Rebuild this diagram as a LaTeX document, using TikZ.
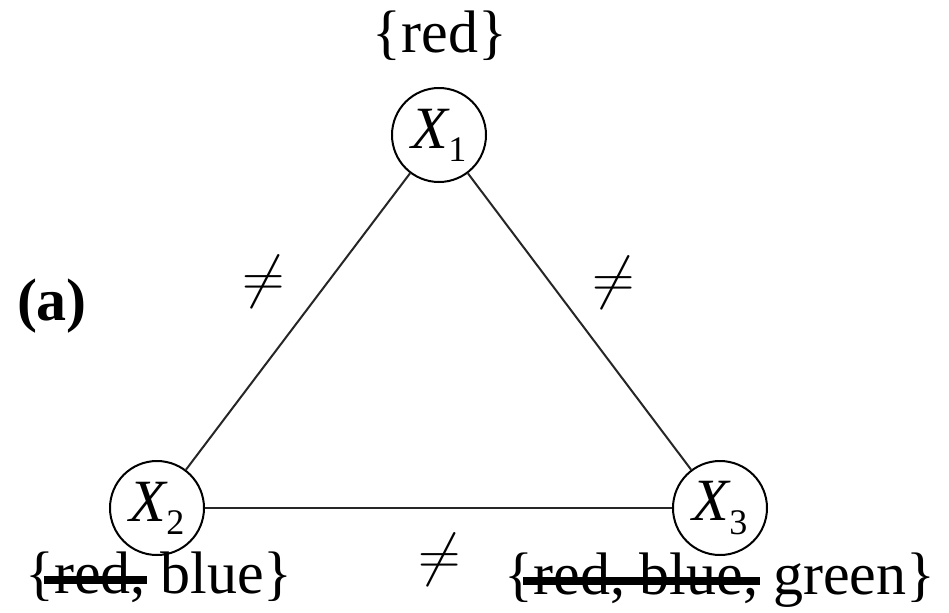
\documentclass[tikz,border=0pt]{standalone}
\usepackage{graphicx}
\usepackage{fontspec}
\setmainfont{Liberation Serif}
\newcommand\strk[1]{\setbox0\hbox{#1}\rlap{\hskip-0.17em\rule[0.155em]{\dimexpr\wd0+0.2em\relax}{0.13em}}\box0\relax}
\newcommand\xvar[1]{{\itshape X}\raisebox{-0.22em}{\fontsize{18}{20}\selectfont #1}}
\newcommand\bigneq{\scalebox{1.18}{$\neq$}}
\begin{document}
\begin{tikzpicture}[x=0.5pt,y=-0.5pt]
\tikzset{
  big/.style={font=\fontsize{30}{36}\selectfont},
  var/.style={big,circle,draw,line width=1pt,minimum size=47pt,inner sep=0pt},
  lbl/.style={big,inner sep=0pt,anchor=base},
  neqlbl/.style={big,inner sep=0pt},
  edge/.style={line width=1pt,draw=black!85}
}
\useasboundingbox (0,0) rectangle (949,612);
\node[var] (x1) at (439,135) {\xvar{1}};
\node[var] (x2) at (157,508) {\xvar{2}};
\node[var] (x3) at (720,508) {\xvar{3}};
\draw[edge] (x1) -- (x2);
\draw[edge] (x1) -- (x3);
\draw[edge] (x2) -- (x3);
\node[lbl] (d1) at (440,52) {\{red\}};
\node[lbl] (d2) at (159,593) {\{\strk{red,} blue\}};
\node[lbl] (d3) at (720,594) {\{\strk{red, blue,} green\}};
\node[lbl,font=\fontsize{30}{36}\selectfont\bfseries] (a) at (52,320) {(a)};
\node[neqlbl] (n12) at (264,282) {\bigneq};
\node[neqlbl] (n13) at (614,283) {\bigneq};
\node[neqlbl] (n23) at (440,560) {\bigneq};
\end{tikzpicture}
\end{document}
